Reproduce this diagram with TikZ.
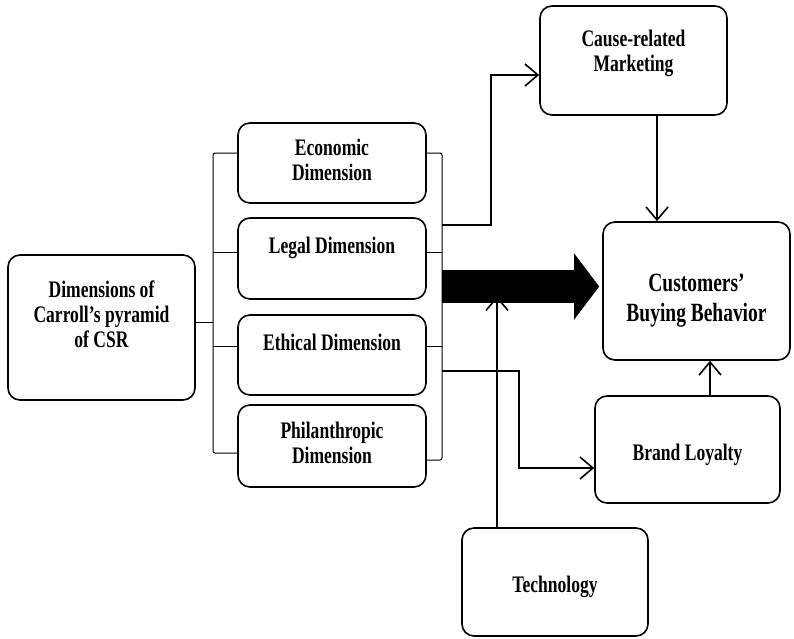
\documentclass[tikz,border=0pt]{standalone}
\usepackage{fontspec}
\setmainfont{Liberation Serif}[FakeStretch=0.74]
\usetikzlibrary{arrows.meta, positioning}
\newcommand{\boxtext}[2]{\raisebox{#1}[\height][\depth]{\begin{tabular}{@{}c@{}}#2\end{tabular}}}

\begin{document}
\begin{tikzpicture}[
      x=1pt, y=-1pt,
      box/.style={draw, line width=1.6pt, rounded corners=12pt, inner sep=0pt, font=\bfseries\fontsize{23.7}{25}\selectfont},
      bigbox/.style={box, font=\bfseries\fontsize{26.3}{30}\selectfont},
      arr/.style={-{Straight Barb[length=13pt,width=22pt,line width=1.6pt]}, line width=1.4pt},
      brk/.style={line width=1pt},
      bigarr/.style={line width=33pt, -{Triangle[length=25pt,width=66pt,line width=0pt]}}
    ]
    \useasboundingbox (0,0) rectangle (794,638);

    \node[box, minimum width=187pt, minimum height=145pt] (csr) at (101.5,327.5) {\boxtext{10pt}{Dimensions of\\Carroll's pyramid\\of CSR}};
    \node[box, minimum width=188pt, minimum height=80pt] (eco) at (332,163) {\boxtext{0pt}{Economic\\Dimension}};
    \node[box, minimum width=188pt, minimum height=81pt] (legal) at (332,258.5) {\boxtext{10pt}{Legal Dimension}};
    \node[box, minimum width=188pt, minimum height=80pt] (ethic) at (332,355) {\boxtext{10pt}{Ethical Dimension}};
    \node[box, minimum width=188pt, minimum height=82pt] (phil) at (332,446) {\boxtext{0pt}{Philanthropic\\Dimension}};
    \node[box, minimum width=187pt, minimum height=109pt] (crm) at (633.5,60.5) {\boxtext{7pt}{Cause-related\\Marketing}};
    \node[bigbox, minimum width=187pt, minimum height=138pt] (cbb) at (696.5,291) {\boxtext{-9pt}{Customers'\\Buying Behavior}};
    \node[box, minimum width=185pt, minimum height=107pt] (brand) at (687.5,449.5) {\boxtext{-6pt}{Brand Loyalty}};
    \node[box, minimum width=186pt, minimum height=108pt] (tech) at (555,582) {\boxtext{-5pt}{Technology}};

    % brackets
    \coordinate (lb) at (213,153);
    \coordinate (lbb) at (213,453);
    \coordinate (rb) at (442,153);
    \coordinate (rbb) at (442,460);
    \draw[brk, rounded corners=2pt] ([yshift=10pt]eco.west) -- (lb) -- (lbb) -- ([yshift=-7pt]phil.west);
    \draw[brk, rounded corners=2pt] ([yshift=10pt]eco.east) -- (rb) -- (rbb) -- ([yshift=-14pt]phil.east);
    \draw[brk] ([yshift=5pt]csr.east) -- ([yshift=5pt]csr.east -| lb);
    \draw[brk] ([yshift=6pt]legal.west) -- ([yshift=6pt]legal.west -| lb);
    \draw[brk] ([yshift=9pt]ethic.west) -- ([yshift=9pt]ethic.west -| lb);
    \draw[brk] ([yshift=6pt]legal.east) -- ([yshift=6pt]legal.east -| rb);
    \draw[brk] ([yshift=9pt]ethic.east) -- ([yshift=9pt]ethic.east -| rb);

    % connectors
    \coordinate (crmout) at (442,225);
    \coordinate (blout) at (442,371);
    \coordinate (bigstart) at (442,286.5);
    \draw[arr] (crmout) -- ++(49,0) |- ([yshift=-14.5pt]crm.west);
    \draw[arr] (blout) -- ++(77,0) |- ([yshift=-18.5pt]brand.west);
    \draw[bigarr, shorten >=3pt] (bigstart) -- (bigstart -| cbb.west);
    \draw[arr] ([xshift=-58pt]tech.north) -- ++(0,-231);
    \draw[arr] ([xshift=23.5pt]crm.south) -- ([xshift=23.5pt]crm.south |- cbb.north);
    \draw[arr] ([xshift=22.5pt]brand.north) -- ([xshift=22.5pt]brand.north |- cbb.south);
  \end{tikzpicture}
\end{document}
